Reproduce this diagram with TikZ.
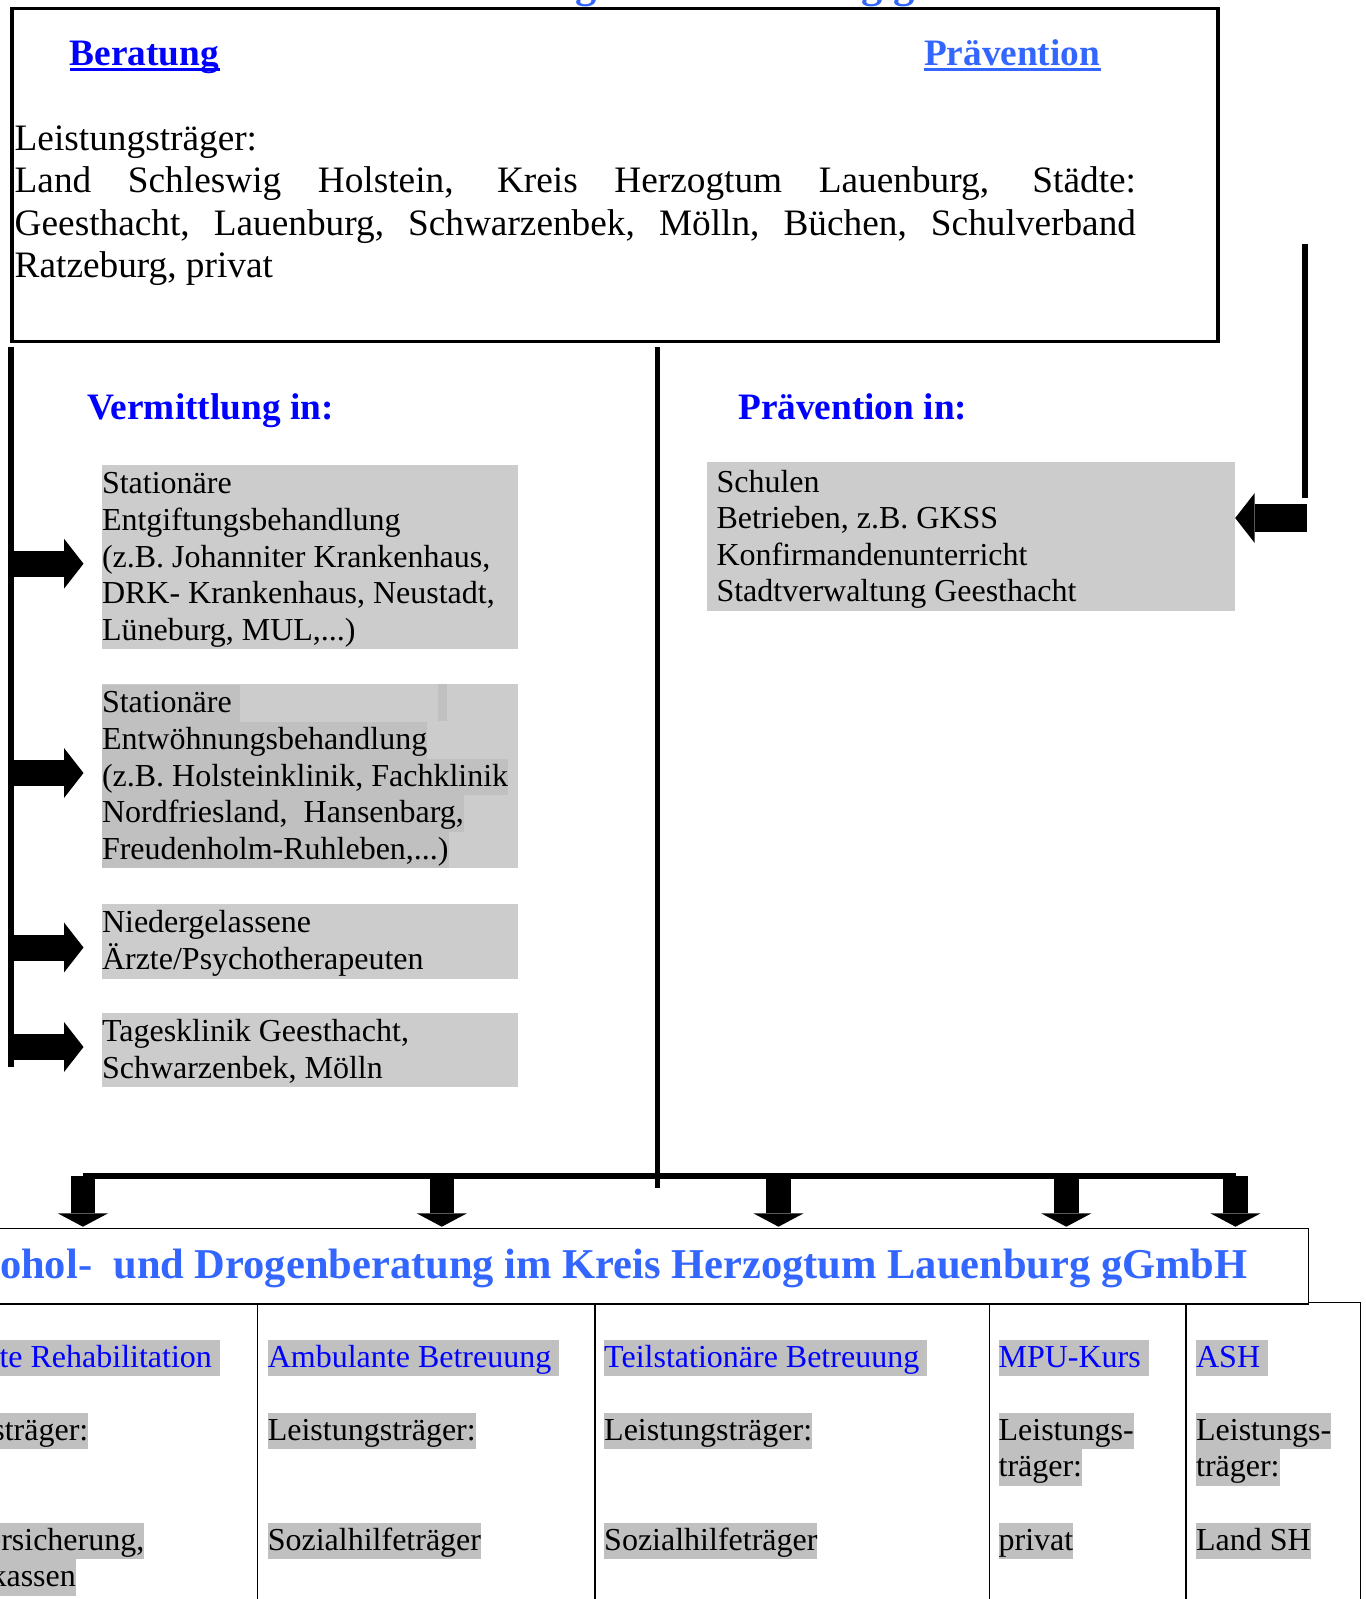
\documentclass[tikz,border=0pt]{standalone}
\usepackage{fontspec}
\setmainfont{Liberation Serif}
\usepackage{xcolor}
\definecolor{hdblue}{HTML}{0000FF}
\definecolor{ttblue}{HTML}{3366FF}
\definecolor{boxgrey}{HTML}{CCCCCC}
\definecolor{hlgrey}{HTML}{C0C0C0}
\usetikzlibrary{arrows.meta,positioning,calc}
\newcommand\lstrut{\rule[-4.5pt]{0pt}{18.25pt}}
\newcommand\fstrut[1][14.25pt]{\rule{0pt}{#1}}
\newcommand\hlt[1]{{\setlength\fboxsep{0pt}\colorbox{hlgrey}{\lstrut#1}}}
\tikzset{
  bigtxt/.style={font=\fontsize{18.65pt}{21.25pt}\selectfont,inner sep=0pt},
  head/.style={font=\fontsize{18.65pt}{21.25pt}\selectfont\bfseries,inner sep=0pt,anchor=base west},
  ttl/.style={font=\fontsize{21.25pt}{24pt}\selectfont\bfseries,text=ttblue,inner sep=0pt},
  boxtxt/.style={font=\fontsize{16pt}{18.3pt}\selectfont,inner sep=0pt,align=flush left},
  greybox/.style={boxtxt,fill=boxgrey,text width=207.95pt,anchor=north west},
  coltxt/.style={boxtxt,anchor=north west},
  thickln/.style={line width=2.75pt},
  gridln/.style={line width=0.6pt},
  blockarr/.style={line width=13pt,-{Triangle[length=9.75pt,width=25pt,line width=0pt]}},
  downarr/.style={line width=12.25pt,-{Triangle[length=6.65pt,width=25pt,line width=0pt]}},
}
\begin{document}
\begin{tikzpicture}[x=0.5pt,y=-0.5pt]
\useasboundingbox (0,0) rectangle (1365,1599);
\clip (0,0) rectangle (1365,1599);
% page title, cut off at the top edge
\node[ttl,anchor=base west] (toptitle) at (463.7,-2) {Herzogtum Lauenburg gGmbH};
% upper box
\draw[line width=1.65pt] (12,8.3) rectangle (1218,341.5);
\node[head,text=hdblue] (beratung) at (69.5,66) {Beratung};
\node[head,text=ttblue] (praevention) at (923.6,66) {Prävention};
\foreach \nd/\c in {beratung/hdblue,praevention/ttblue}
  \draw[\c,line width=1.35pt] ([yshift=-1.85pt]\nd.base west) -- ([yshift=-1.85pt]\nd.base east);
\node[bigtxt,text width=560.65pt,align=justify,anchor=north west] (leist) at (14.3,119.8)
  {\tolerance=10000\rule{0pt}{15pt}Leistungsträger:\\
   Land Schleswig Holstein, Kreis Herzogtum Lauenburg, Städte:\linebreak
   Geesthacht, Lauenburg, Schwarzenbek, Mölln, Büchen, Schulverband\linebreak
   Ratzeburg, privat};
% two branches
\node[head,text=hdblue] (vermittlung) at (86.9,419.5) {Vermittlung in:};
\node[head,text=hdblue] (praevin) at (737.8,419.5) {Prävention in:};
\coordinate (lvtop) at (10.8,347.3);
\coordinate (lvbot) at (10.8,1067);
\coordinate (mvtop) at (657.7,347.3);
\coordinate (mvbot) at (657.7,1188);
\coordinate (rvtop) at (1305,244.5);
\coordinate (rvbot) at (1305,498);
\draw[thickln] (lvtop) -- (lvbot);
\draw[thickln] (mvtop) -- (mvbot);
\draw[thickln] (rvtop) -- (rvbot);
\node[greybox] (entgift) at (101.6,465)
  {\fstrut\lstrut Stationäre\\ \lstrut Entgiftungsbehandlung\\ \lstrut (z.B. Johanniter Krankenhaus,\\
   \lstrut DRK- Krankenhaus, Neustadt,\\ \lstrut Lüneburg, MUL,...)};
\node[greybox] (entwoehn) at (101.6,684)
  {\fstrut\hlt{Stationäre\ }\\ \hlt{Entwöhnungsbehandlung}\\ \hlt{(z.B. Holsteinklinik, Fachklinik}\\
   \hlt{Nordfriesland,\ \ Hansenbarg,}\\ \hlt{Freudenholm-Ruhleben,...)}};
\fill[hlgrey] (438,684) rectangle (447,720.7);
\node[greybox] (aerzte) at (101.6,904) {\fstrut\lstrut Niedergelassene\\ \lstrut Ärzte/Psychotherapeuten};
\node[greybox] (tagesk) at (101.6,1012.7) {\fstrut\lstrut Tagesklinik Geesthacht,\\ \lstrut Schwarzenbek, Mölln};
\node[greybox,text width=254.55pt,inner xsep=4.6pt] (praevbox) at (706.9,462)
  {\fstrut[14.85pt]\lstrut Schulen\\ \lstrut Betrieben, z.B. GKSS\\ \lstrut Konfirmandenunterricht\\ \lstrut Stadtverwaltung Geesthacht};
\foreach \y/\nd in {563.7/entgift,773/entwoehn,947.5/aerzte,1047/tagesk}{
  \coordinate (a\nd) at (10.8,\y);
  \draw[blockarr,shorten >=9.05pt] (a\nd) -- (a\nd -| \nd.west);
}
\coordinate (rarr) at (1307,518);
\draw[blockarr,line width=14pt] (rarr) -- (rarr -| praevbox.east);
% distribution to the services
\foreach \x [count=\i] in {82.9,441.8,778.5,1066.3,1235.5}
  \coordinate (b\i) at (\x,1176);
\draw[thickln] (b1) -- (b5);
\node[draw,gridln,minimum width=750pt,minimum height=37.8pt,anchor=north east,inner sep=0pt] (gmbhbox) at (1309.3,1227.7) {};
\node[ttl,anchor=base east] (gmbh) at (1248,1278) {Alkohol-\ \ und Drogenberatung im Kreis Herzogtum Lauenburg gGmbH};
\foreach \i in {1,...,5}
  \draw[downarr,shorten >=0.5pt] (b\i) -- (b\i |- gmbhbox.north);
% table of services
\draw[gridln] (1309.3,1302.3) -- (1360.3,1302.3) -- (1360.3,1610);
\foreach \x in {257.1,594.9,989.1,1185.9}
  \draw[gridln] (\x,1303.3) -- (\x,1610);
\node[coltxt] (col1) at (-120,1339.1) {\hlt{\color{hdblue}Ambulante Rehabilitation\ }\\[18.3pt]
  \hlt{Leistungsträger:}\\[36.6pt] \hlt{Rentenversicherung,}\\ \hlt{Krankenkassen}};
\node[coltxt] (col2) at (267.4,1339.1) {\hlt{\color{hdblue}Ambulante Betreuung\ }\\[18.3pt]
  \hlt{Leistungsträger:}\\[36.6pt] \hlt{Sozialhilfeträger}};
\node[coltxt] (col3) at (603.8,1339.1) {\hlt{\color{hdblue}Teilstationäre Betreuung\ }\\[18.3pt]
  \hlt{Leistungsträger:}\\[36.6pt] \hlt{Sozialhilfeträger}};
\node[coltxt] (col4) at (998.2,1339.1) {\hlt{\color{hdblue}MPU-Kurs\ }\\[18.3pt]
  \hlt{Leistungs-}\\ \hlt{träger:}\\[18.3pt] \hlt{privat}};
\node[coltxt] (col5) at (1195.7,1339.1) {\hlt{\color{hdblue}ASH\ }\\[18.3pt]
  \hlt{Leistungs-}\\ \hlt{träger:}\\[18.3pt] \hlt{Land SH}};
\end{tikzpicture}
\end{document}
